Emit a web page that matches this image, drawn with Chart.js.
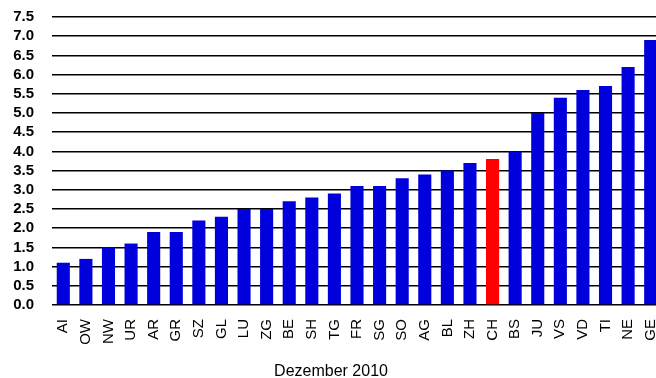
<!DOCTYPE html>
<html lang="de">
<head>
    <meta charset="UTF-8">
    <title>Dezember 2010</title>
    <script src="https://cdn.jsdelivr.net/npm/chart.js"></script>
    <style>
        * { margin: 0; padding: 0; box-sizing: border-box; }
        body { background: #fff; overflow: hidden; }
        /* a bit wider than the window: the last bar is cut at the right edge like in the original */
        #wrap { width: 662px; height: 378px; position: relative; }
    </style>
</head>
<body>
    <div id="wrap"><canvas id="chart"></canvas></div>
    <script>
        const cantons = ['AI','OW','NW','UR','AR','GR','SZ','GL','LU','ZG','BE','SH','TG','FR','SG','SO','AG','BL','ZH','CH','BS','JU','VS','VD','TI','NE','GE'];
        const rates = [1.1,1.2,1.5,1.6,1.9,1.9,2.2,2.3,2.5,2.5,2.7,2.8,2.9,3.1,3.1,3.3,3.4,3.5,3.7,3.8,4.0,5.0,5.4,5.6,5.7,6.2,6.9];
        const highlight = 'CH';
        const periodLabel = 'Dezember 2010';

        const barColors = cantons.map(c => c === highlight ? '#ff0000' : '#0000dd');

        new Chart(document.getElementById('chart'), {
            type: 'bar',
            data: {
                labels: cantons,
                datasets: [{
                    data: rates,
                    backgroundColor: barColors,
                    categoryPercentage: 1.0,
                    barPercentage: 0.58
                }]
            },
            options: {
                responsive: true,
                maintainAspectRatio: false,
                animation: false,
                layout: { padding: { top: 17, right: 0, left: 0, bottom: -3 } },
                plugins: {
                    legend: { display: false },
                    tooltip: { enabled: false },
                    title: {
                        display: true,
                        position: 'bottom',
                        text: periodLabel,
                        color: '#000',
                        font: { family: 'Liberation Sans, Arial', size: 16, weight: 'normal' },
                        padding: { top: 11, bottom: 0 }
                    }
                },
                scales: {
                    x: {
                        afterFit: s => { s.paddingLeft = 0; s.paddingRight = 0; },
                        grid: { display: false },
                        border: { display: false },
                        ticks: {
                            minRotation: 90, maxRotation: 90,
                            autoSkip: false,
                            color: '#000',
                            font: { family: 'Liberation Sans, Arial', size: 15 },
                            padding: 6
                        }
                    },
                    y: {
                        min: 0, max: 7.5,
                        afterFit: s => { s.width = 52; s.paddingTop = 0; s.paddingBottom = 0; },
                        ticks: {
                            stepSize: 0.5,
                            autoSkip: false,
                            color: '#000',
                            padding: 18,
                            font: { family: 'Liberation Sans, Arial', size: 15, weight: 'bold' },
                            callback: v => v.toFixed(1)
                        },
                        grid: { color: '#000', lineWidth: 1.5, drawTicks: false },
                        border: { display: false }
                    }
                }
            }
        });
    </script>
</body>
</html>
